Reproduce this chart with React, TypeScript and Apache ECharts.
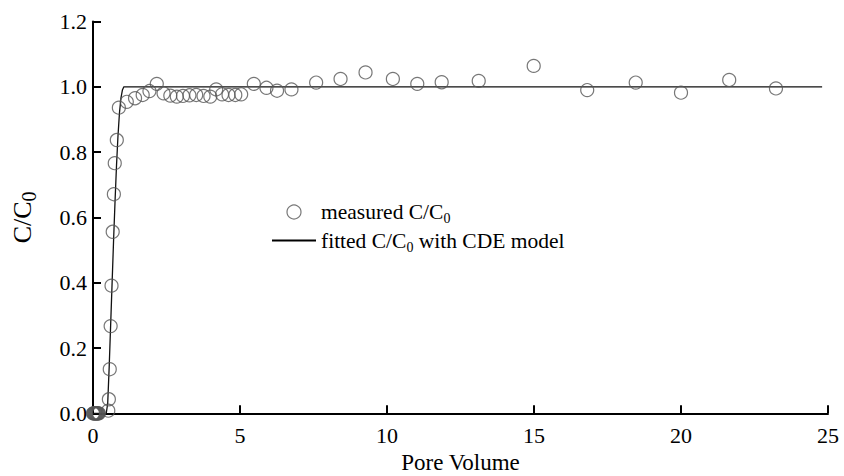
import React, { useEffect, useRef } from "react";
import * as echarts from "echarts";

const measuredX = [0, 0.02, 0.04, 0.06, 0.08, 0.1, 0.12, 0.14, 0.16, 0.18, 0.2, 0.52, 0.54, 0.57, 0.6, 0.63, 0.67, 0.71, 0.74, 0.81, 0.88, 1.15, 1.43, 1.69, 1.92, 2.17, 2.4, 2.63, 2.85, 3.06, 3.28, 3.51, 3.76, 3.99, 4.19, 4.39, 4.61, 4.84, 5.04, 5.47, 5.9, 6.26, 6.75, 7.59, 8.42, 9.27, 10.2, 11.03, 11.86, 13.12, 14.99, 16.81, 18.46, 20.0, 21.64, 23.23];
const measuredY = [0, 0, 0, 0, 0, 0, 0, 0, 0, 0, 0, 0.008, 0.043, 0.135, 0.267, 0.391, 0.556, 0.671, 0.766, 0.837, 0.936, 0.954, 0.965, 0.975, 0.987, 1.009, 0.98, 0.973, 0.97, 0.972, 0.974, 0.975, 0.972, 0.97, 0.992, 0.977, 0.975, 0.975, 0.977, 1.009, 0.997, 0.988, 0.992, 1.013, 1.024, 1.044, 1.024, 1.009, 1.014, 1.018, 1.064, 0.99, 1.013, 0.982, 1.021, 0.995];

const fitX = [0, 0.45, 0.5, 0.55, 0.6, 0.65, 0.7, 0.75, 0.8, 0.85, 0.9, 0.95, 1.0, 1.05, 24.8];
const fitY = [0, 0, 0.03, 0.14, 0.27, 0.4, 0.53, 0.65, 0.76, 0.85, 0.92, 0.965, 0.99, 1.0, 1.0];

const xTicks = [0, 5, 10, 15, 20, 25];
const yTicks = [0, 0.2, 0.4, 0.6, 0.8, 1.0, 1.2];

const seriesNames = ["measured C/C0", "fitted C/C0 with CDE model"];

const FONT = "Liberation Serif";

export default function App() {
  const ref = useRef<HTMLDivElement>(null);
  useEffect(() => {
    if (!ref.current) return;
    const chart = echarts.init(ref.current, undefined, { renderer: "svg" });
    const sub = { fontFamily: FONT, fontSize: 14, color: "#000", verticalAlign: "bottom", lineHeight: 27 };
    const option: any = {
      animation: false,
      backgroundColor: "#fff",
      grid: { left: 93, right: 16, top: 21.5, bottom: 62.7, outerBoundsMode: "none", containLabel: false },
      legend: {
        orient: "vertical",
        left: 267,
        top: 196,
        padding: 5,
        itemWidth: 44,
        itemHeight: 14,
        itemGap: 4,
        data: [
          { name: seriesNames[0], icon: "circle", itemStyle: { color: "rgba(0,0,0,0)", borderColor: "#555", borderWidth: 1.2 } },
          { name: seriesNames[1], icon: "path://M0 0 L44 0 L44 2 L0 2 Z", itemStyle: { color: "#000", borderWidth: 0 } },
        ],
        formatter: (n: string) => n.replace("C/C0", "C/C{s|0}"),
        textStyle: {
          fontFamily: FONT,
          fontSize: 21.5,
          color: "#000",
          rich: { s: sub },
        },
      },
      xAxis: {
        type: "value",
        min: xTicks[0],
        max: xTicks[xTicks.length - 1],
        interval: 5,
        name: "Pore Volume",
        nameLocation: "middle",
        nameGap: 35,
        nameTextStyle: { fontFamily: FONT, fontSize: 23, color: "#000" },
        axisLine: { lineStyle: { color: "#000", width: 2 } },
        axisTick: { inside: true, length: 8, lineStyle: { color: "#000", width: 2 } },
        axisLabel: { fontFamily: FONT, fontSize: 22, color: "#000", margin: 11 },
        splitLine: { show: false },
      },
      yAxis: {
        type: "value",
        min: yTicks[0],
        max: yTicks[yTicks.length - 1],
        interval: 0.2,
        name: "{m|C/C}{s|0}",
        nameLocation: "middle",
        nameGap: 54,
        nameRotate: 90,
        nameTextStyle: {
          fontFamily: FONT,
          fontSize: 26,
          color: "#000",
          rich: { m: { fontFamily: FONT, fontSize: 26, color: "#000" }, s: { ...sub, fontSize: 20, lineHeight: 33 } },
        },
        axisLine: { lineStyle: { color: "#000", width: 2 } },
        axisTick: { inside: true, length: 8, lineStyle: { color: "#000", width: 2 } },
        axisLabel: {
          fontFamily: FONT,
          fontSize: 22,
          color: "#000",
          margin: 6,
          formatter: (v: number) => v.toFixed(1),
        },
        splitLine: { show: false },
      },
      series: [
        {
          name: seriesNames[0],
          type: "scatter",
          symbol: "circle",
          symbolSize: 13,
          clip: false,
          itemStyle: { color: "rgba(0,0,0,0)", borderColor: "#555", borderWidth: 1.2 },
          data: measuredX.map((x, i) => [x, measuredY[i]]),
          z: 3,
        },
        {
          name: seriesNames[1],
          type: "line",
          symbol: "none",
          showSymbol: false,
          itemStyle: { color: "#111" },
          lineStyle: { color: "#111", width: 1.3 },
          data: fitX.map((x, i) => [x, fitY[i]]),
          z: 2,
        },
      ],
    };
    chart.setOption(option);
    return () => chart.dispose();
  }, []);
  return <div ref={ref} style={{ position: "absolute", left: 0, top: 0, width: 844, height: 476 }} />;
}
